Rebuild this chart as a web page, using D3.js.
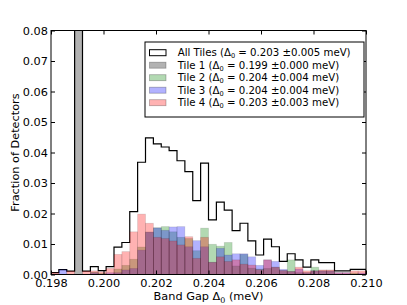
<!DOCTYPE html>
<html><head><meta charset="utf-8">
<script src="https://cdn.jsdelivr.net/npm/d3@7"></script>
<style>
body{margin:0;background:#fff;}
text{font-family:"DejaVu Sans",sans-serif;}
</style></head>
<body><svg id="chart" width="407" height="305"></svg>
<script>
// ---- data ----
const binEdges = [0.1980,0.1983,0.1986,0.1989,0.1992,0.1995,0.1998,0.2001,0.2004,0.2007,
  0.2010,0.2013,0.2016,0.2019,0.2022,0.2025,0.2028,0.2031,0.2034,0.2037,
  0.2040,0.2043,0.2046,0.2049,0.2052,0.2055,0.2058,0.2061,0.2064,0.2067,
  0.2070,0.2073,0.2076,0.2079,0.2082,0.2085,0.2088,0.2091,0.2094,0.2097,0.2100];
const allTiles = [0.0006,0.0016,0.0011,0.45,0.0011,0.0026,0.0013,0.0026,0.0090,0.0105,
  0.0206,0.0368,0.0448,0.0428,0.0418,0.0406,0.0373,0.0337,0.0242,0.0365,
  0.0179,0.0237,0.0211,0.0144,0.0168,0.0110,0.0064,0.0116,0.0091,0.0043,
  0.0068,0.0048,0.0024,0.0048,0.0039,0.0039,0.0012,0.0012,0.0017,0.0017];
const tile1 = [0,0,0,0.45,0,0,0,0,0,0, 0,0,0,0,0,0,0,0,0,0, 0,0,0,0,0,0,0,0,0,0, 0,0,0,0,0,0,0,0,0,0];
const tile2 = [0,0,0,0,0,0.0008,0.0004,0,0.0018,0.0030,
  0.0050,0.0090,0.0139,0.0153,0.0157,0.0140,0.0122,0.0118,0.0078,0.0152,
  0.0099,0.0093,0.0105,0.0028,0.0066,0.0021,0.0018,0.0020,0.0024,0.0013,
  0.0048,0.0006,0.0006,0.0024,0.0012,0.0012,0,0,0.0005,0];
const tile3 = [0,0.0016,0,0,0,0.0006,0,0.0006,0.0006,0.0015,
  0.0020,0.0080,0.0139,0.0153,0.0145,0.0156,0.0157,0.0091,0.0111,0.0091,
  0.0040,0.0086,0.0064,0.0068,0.0068,0.0058,0.0030,0.0048,0.0043,0.0017,
  0.0010,0.0018,0.0006,0.0012,0.0012,0.0012,0.0006,0.0006,0,0.0005];
const tile4 = [0.0006,0,0.0011,0,0.0011,0.0012,0.0009,0.0020,0.0066,0.0075,
  0.0140,0.0198,0.0168,0.0122,0.0118,0.0110,0.0097,0.0124,0.0053,0.0122,
  0.0040,0.0058,0.0043,0.0048,0.0034,0.0031,0.0016,0.0048,0.0024,0.0013,
  0.0010,0.0024,0.0012,0.0012,0.0015,0.0015,0.0006,0.0006,0.0012,0.0012];
const xTicks = [0.198,0.200,0.202,0.204,0.206,0.208,0.210];
const yTicks = [0.00,0.01,0.02,0.03,0.04,0.05,0.06,0.07,0.08];
const legendLabels = [
  ["All Tiles (\u0394", " = 0.203 \u00b10.005 meV)"],
  ["Tile 1 (\u0394", " = 0.199 \u00b10.000 meV)"],
  ["Tile 2 (\u0394", " = 0.204 \u00b10.004 meV)"],
  ["Tile 3 (\u0394", " = 0.204 \u00b10.004 meV)"],
  ["Tile 4 (\u0394", " = 0.203 \u00b10.003 meV)"]];
const tileColors = ["#000000","#008000","#0000ff","#ff0000"];

// ---- layout ----
const L=51, R=366, T=30.5, B=274.5;
const svg = d3.select("#chart");
const x = d3.scaleLinear().domain([0.198,0.210]).range([L,R]);
const y = d3.scaleLinear().domain([0,0.08]).range([B,T]);

svg.append("clipPath").attr("id","clip").append("rect")
  .attr("x",L).attr("y",T).attr("width",R-L).attr("height",B-T);
const plot = svg.append("g").attr("clip-path","url(#clip)");

// All tiles step outline
const stepPts = [[x(binEdges[0]), y(0)]];
allTiles.forEach((v,i)=>{
  stepPts.push([x(binEdges[i]), y(v)]);
  stepPts.push([x(binEdges[i+1]), y(v)]);
});
stepPts.push([x(binEdges[40]), y(0)]);
plot.append("path").attr("d", d3.line()(stepPts))
  .attr("fill","none").attr("stroke","#000").attr("stroke-width",1.2);

// tile bars
[tile1,tile2,tile3,tile4].forEach((arr,k)=>{
  plot.append("g").selectAll("rect")
    .data(arr.map((v,i)=>({v,i})).filter(d=>d.v>0))
    .join("rect")
    .attr("x",d=>x(binEdges[d.i]))
    .attr("width",d=>x(binEdges[d.i+1])-x(binEdges[d.i]))
    .attr("y",d=>y(d.v))
    .attr("height",d=>y(0)-y(d.v))
    .attr("fill",tileColors[k]).attr("fill-opacity",0.3)
    .attr("stroke","#000").attr("stroke-opacity",0.12).attr("stroke-width",0.8);
});

// axes
const fs = 11.3;
const gx = svg.append("g").attr("transform",`translate(0,${B})`)
  .call(d3.axisBottom(x).tickValues(xTicks).tickFormat(d3.format(".3f")).tickSizeInner(-4).tickSizeOuter(0).tickPadding(4));
const gxt = svg.append("g").attr("transform",`translate(0,${T})`)
  .call(d3.axisTop(x).tickValues(xTicks).tickFormat("").tickSizeInner(-4).tickSizeOuter(0));
const gy = svg.append("g").attr("transform",`translate(${L},0)`)
  .call(d3.axisLeft(y).tickValues(yTicks).tickFormat(d3.format(".2f")).tickSizeInner(-4).tickSizeOuter(0).tickPadding(3));
const gyr = svg.append("g").attr("transform",`translate(${R},0)`)
  .call(d3.axisRight(y).tickValues(yTicks).tickFormat("").tickSizeInner(-4).tickSizeOuter(0));
[gx,gxt,gy,gyr].forEach(g=>{
  g.select(".domain").remove();
  g.selectAll("text").attr("font-family","DejaVu Sans").attr("font-size",fs).attr("fill","#000");
  g.selectAll("line").attr("stroke","#000");
});
svg.append("rect").attr("x",L).attr("y",T).attr("width",R-L).attr("height",B-T)
  .attr("fill","none").attr("stroke","#000").attr("stroke-width",1);

// axis labels
const xl = svg.append("text").attr("x",(L+R)/2).attr("y",300).attr("text-anchor","middle").attr("font-size",fs);
xl.append("tspan").text("Band Gap \u0394");
xl.append("tspan").attr("font-size",fs*0.7).attr("dy",3).text("0");
xl.append("tspan").attr("dy",-3).text(" (meV)");
svg.append("text").attr("transform",`translate(19,${(T+B)/2}) rotate(-90)`)
  .attr("text-anchor","middle").attr("font-size",fs).text("Fraction of Detectors");

// legend
const lfs = 10.2;
const lg = svg.append("g");
lg.append("rect").attr("x",145).attr("y",42).attr("width",219).attr("height",75)
  .attr("fill","#fff").attr("stroke","#000").attr("stroke-width",1);
legendLabels.forEach((lab,k)=>{
  const cy = 52.7 + k*12.5;
  const sw = lg.append("rect").attr("x",149.5).attr("y",cy-3).attr("width",16.5).attr("height",6);
  if(k===0){ sw.attr("fill","#fff").attr("stroke","#000").attr("stroke-width",1); }
  else { sw.attr("fill",tileColors[k-1]).attr("fill-opacity",0.3).attr("stroke","#000").attr("stroke-opacity",0.3).attr("stroke-width",0.8); }
  const t = lg.append("text").attr("x",177.7).attr("y",cy+3.7).attr("font-size",lfs);
  t.append("tspan").text(lab[0]);
  t.append("tspan").attr("font-size",lfs*0.65).attr("dy",2).text("0");
  t.append("tspan").attr("dy",-2).text(lab[1]);
});
</script></body></html>
